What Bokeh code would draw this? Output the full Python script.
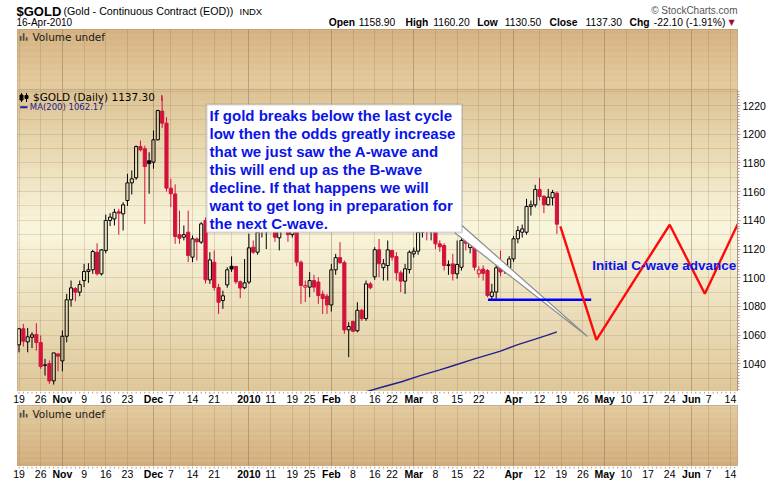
from bokeh.plotting import figure
from bokeh.layouts import column
from bokeh.models import Range1d, Label, FixedTicker, LinearAxis, Grid, BoxAnnotation
from bokeh.core.properties import value
from bokeh.embed import file_html
from bokeh.resources import INLINE

# ---------------- data ----------------
opens = [1053.2, 1064.4, 1055.3, 1058.5, 1060.4, 1054.8, 1039.2, 1040.2, 1028.1, 1046.9,
         1042.0, 1059.2, 1084.6, 1092.4, 1089.9, 1098.0, 1104.3, 1105.5, 1117.8, 1102.7,
         1118.9, 1139.9, 1141.0, 1146.0, 1144.5, 1153.8, 1166.1, 1169.6, 1191.4, 1189.8,
         1181.5, 1180.5, 1196.1, 1216.1, 1207.7, 1162.4, 1158.4, 1130.0, 1128.2, 1131.7,
         1114.3, 1127.0, 1124.8, 1139.9, 1098.5, 1110.8, 1093.2, 1084.1, 1095.0, 1108.0,
         1107.8, 1097.2, 1093.0, 1096.9, 1121.3, 1117.8, 1137.0, 1132.0, 1138.0, 1152.0,
         1127.8, 1137.0, 1143.0, 1130.0, 1138.0, 1110.8, 1093.4, 1093.4, 1098.0, 1097.0,
         1088.5, 1087.1, 1081.0, 1105.5, 1114.0, 1110.5, 1063.6, 1069.5, 1063.0, 1077.3,
         1071.5, 1095.7, 1100.6, 1119.5, 1107.0, 1108.5, 1119.0, 1114.7, 1103.4, 1097.6,
         1105.7, 1116.6, 1118.5, 1131.7, 1140.0, 1132.0, 1134.0, 1123.6, 1122.4, 1108.5,
         1109.6, 1102.7, 1107.3, 1127.5, 1121.0, 1122.4, 1102.7, 1106.0, 1105.0, 1087.0,
         1090.0, 1107.0, 1108.5, 1106.9, 1113.1, 1127.1, 1131.7, 1131.7, 1149.6, 1150.8,
         1161.5, 1156.8, 1150.8, 1155.7, 1158.9]
highs = [1065.0, 1067.8, 1065.0, 1062.0, 1068.3, 1059.7, 1043.4, 1042.3, 1047.6, 1047.4,
         1063.2, 1088.7, 1098.0, 1093.4, 1098.0, 1109.6, 1110.1, 1119.4, 1124.0, 1120.0,
         1144.0, 1145.0, 1148.0, 1148.0, 1152.6, 1172.4, 1174.7, 1192.1, 1195.6, 1192.0,
         1187.4, 1202.6, 1217.0, 1226.3, 1211.9, 1168.9, 1165.0, 1146.8, 1136.4, 1146.8,
         1129.4, 1128.0, 1138.7, 1142.0, 1117.8, 1119.0, 1095.7, 1091.0, 1107.3, 1114.8,
         1107.8, 1098.0, 1113.0, 1130.6, 1125.9, 1137.5, 1140.0, 1141.0, 1161.0, 1155.0,
         1140.0, 1145.0, 1146.0, 1141.0, 1140.0, 1112.0, 1098.0, 1103.9, 1102.0, 1100.4,
         1091.0, 1088.7, 1109.6, 1116.6, 1124.8, 1112.0, 1069.0, 1070.1, 1082.9, 1078.3,
         1098.0, 1097.0, 1121.3, 1127.0, 1113.0, 1125.9, 1119.4, 1117.8, 1105.0, 1109.6,
         1119.0, 1121.0, 1137.5, 1146.0, 1145.0, 1140.0, 1137.0, 1126.0, 1124.0, 1112.0,
         1116.6, 1125.9, 1130.0, 1131.0, 1128.0, 1124.0, 1108.0, 1108.5, 1106.0, 1095.7,
         1109.6, 1118.9, 1110.0, 1115.0, 1129.0, 1136.0, 1137.0, 1155.0, 1153.8, 1164.7,
         1169.6, 1157.3, 1161.9, 1161.2, 1160.2]
lows = [1048.0, 1052.0, 1048.0, 1051.0, 1049.2, 1036.5, 1031.8, 1026.0, 1025.5, 1034.8,
        1034.8, 1055.0, 1079.9, 1083.6, 1087.1, 1093.4, 1096.4, 1102.7, 1101.5, 1101.5,
        1117.0, 1136.0, 1136.4, 1130.0, 1132.9, 1150.0, 1158.0, 1168.2, 1188.0, 1137.5,
        1158.5, 1175.9, 1195.6, 1204.4, 1160.0, 1149.2, 1123.6, 1123.6, 1126.0, 1110.8,
        1110.8, 1112.0, 1123.6, 1096.0, 1095.7, 1091.1, 1074.8, 1078.3, 1093.0, 1104.0,
        1095.7, 1085.7, 1092.0, 1095.7, 1116.6, 1116.0, 1128.0, 1120.0, 1137.0, 1125.0,
        1119.0, 1133.0, 1125.0, 1128.0, 1108.0, 1081.8, 1083.0, 1086.4, 1090.0, 1081.8,
        1074.8, 1074.8, 1076.4, 1102.0, 1109.6, 1060.9, 1044.6, 1062.0, 1062.0, 1070.0,
        1070.0, 1092.0, 1098.5, 1100.4, 1098.0, 1098.0, 1112.0, 1098.0, 1089.9, 1088.7,
        1103.0, 1114.0, 1116.0, 1128.0, 1126.0, 1126.0, 1120.0, 1118.0, 1105.0, 1102.0,
        1098.0, 1099.2, 1105.0, 1119.0, 1117.0, 1105.0, 1100.0, 1098.0, 1086.4, 1084.6,
        1085.3, 1101.0, 1102.7, 1104.0, 1111.0, 1124.0, 1128.0, 1130.0, 1143.3, 1149.0,
        1153.8, 1145.0, 1150.3, 1150.3, 1130.5]
closes = [1064.4, 1055.7, 1058.8, 1060.2, 1054.8, 1038.1, 1039.0, 1028.1, 1047.6, 1045.3,
          1059.2, 1084.6, 1092.9, 1089.9, 1095.2, 1104.3, 1105.5, 1118.2, 1102.7, 1119.4,
          1139.9, 1142.2, 1145.6, 1145.0, 1150.8, 1166.1, 1168.9, 1191.4, 1189.1, 1177.5,
          1179.5, 1196.1, 1216.5, 1207.7, 1162.4, 1158.5, 1128.7, 1127.5, 1130.0, 1115.5,
          1127.1, 1125.0, 1137.5, 1098.5, 1112.4, 1093.2, 1082.9, 1087.4, 1105.5, 1106.0,
          1097.2, 1092.8, 1096.4, 1120.8, 1117.8, 1131.7, 1133.0, 1138.0, 1152.0, 1128.2,
          1137.0, 1143.0, 1130.0, 1138.0, 1110.8, 1094.6, 1094.5, 1098.0, 1093.4, 1087.6,
          1085.5, 1081.0, 1105.5, 1114.0, 1110.5, 1063.6, 1066.0, 1062.7, 1077.3, 1071.5,
          1095.7, 1093.0, 1119.5, 1109.7, 1109.7, 1119.4, 1114.3, 1103.4, 1097.6, 1106.2,
          1117.8, 1118.5, 1131.7, 1140.0, 1132.0, 1134.0, 1123.6, 1121.5, 1108.5, 1109.0,
          1102.7, 1109.2, 1126.0, 1124.0, 1125.0, 1107.3, 1105.5, 1103.0, 1087.6, 1090.0,
          1106.9, 1104.0, 1106.0, 1113.1, 1127.1, 1132.9, 1134.0, 1149.6, 1150.8, 1161.5,
          1156.6, 1150.8, 1156.1, 1159.4, 1137.3]

ma_idx = [80.0, 84.0, 88.0, 92.5, 97.0, 99.5, 105.0, 111.0, 115.0, 119.0, 122.0, 124.0]
ma_val = [1020.5, 1024.0, 1027.3, 1031.8, 1035.8, 1038.1, 1043.4, 1048.8, 1053.4, 1057.2, 1060.1, 1062.2]
ma_last = 1062.17

forecast_idx = [124.8, 133.1, 150.0, 158.1, 165.7]
forecast_val = [1135.7, 1056.7, 1136.9, 1088.8, 1137.5]

support_level = 1084.6
support_from, support_to = 108.1, 131.9

tick_idx = [0, 5, 10, 15, 20, 25, 31, 35, 40, 45, 53, 58, 63, 67, 72, 77, 82, 86,
            91, 96, 101, 106, 114, 120, 125, 130, 135, 140, 145, 150, 155, 159, 164]
tick_labels = ["19", "26", "Nov", "9", "16", "23", "Dec", "7", "14", "21", "2010", "11", "19",
               "25", "Feb", "8", "16", "22", "Mar", "8", "15", "22", "Apr", "12", "19", "26",
               "May", "10", "17", "24", "Jun", "7", "14"]
month_labels = ["Nov", "Dec", "2010", "Feb", "Mar", "Apr", "May", "Jun"]
extra_week_grid = [49, 111]
price_ticks = [1040, 1060, 1080, 1100, 1120, 1140, 1160, 1180, 1200, 1220]

callout_lines = ["If gold breaks below the last cycle",
                 "low then the odds greatly increase",
                 "that we just saw the A-wave and",
                 "this will end up as the B-wave",
                 "decline. If that happens we will",
                 "want to get long in preparation for",
                 "the next C-wave."]
forecast_note = "Initial C-wave advance"

# ---------------- layout constants (page pixels, page origin at 0,0) ----------------
W = 778
BL, BR = 17, W - 737
PXI = 4.338          # px per trading day
X0 = 18.5            # page x of day 0
XS = (BL - X0) / PXI
XE = (737 - X0) / PXI
YHI = 1220 + (105 - 89) / 1.435
YLO = 1220 - (391 - 105) / 1.435

def ix(px):
    return (px - X0) / PXI

def pr(py):
    return 1220 - (py - 105) / 1.435

RED = "#D3123B"
BLACK = "#000000"
BORDER = "#AE9484"
NAVY = "#20208E"
BLUE = "#0A14E8"
TICKC = "#B49C9C"

def interp(stops, t):
    for (t0, c0), (t1, c1) in zip(stops[:-1], stops[1:]):
        if t <= t1:
            f = (t - t0) / (t1 - t0)
            return "#%02x%02x%02x" % tuple(int(round(a + (b - a) * f)) for a, b in zip(c0, c1))
    return "#%02x%02x%02x" % stops[-1][1]

def add_bands(p, ylo, yhi, stops, n=50):
    h = (yhi - ylo) / n
    tops = [yhi - k * h for k in range(n)]
    bots = [yhi - (k + 1) * h for k in range(n)]
    cols = [interp(stops, (k + 0.5) / n) for k in range(n)]
    p.quad(left=XS - 1, right=XE + 1, top=tops, bottom=bots, fill_color=cols,
           line_color=cols, line_width=0.6, level="image")

xr = Range1d(XS, XE)

def add_xgrid(p):
    weeks = sorted(set(tick_idx + extra_week_grid))
    p.add_layout(Grid(dimension=0, ticker=FixedTicker(ticks=weeks),
                      grid_line_color="#8B6B3E", grid_line_alpha=0.22))
    months = [i for i, t in zip(tick_idx, tick_labels) if t in month_labels]
    p.add_layout(Grid(dimension=0, ticker=FixedTicker(ticks=months),
                      grid_line_color="#7A5A35", grid_line_alpha=0.22))

def make_panel(h, yr):
    p = figure(width=W, height=h, x_range=xr, y_range=yr, x_axis_location=None,
               y_axis_location=None, min_border_left=BL, min_border_right=BR,
               min_border_top=0, min_border_bottom=0, toolbar_location=None,
               output_backend="svg", border_fill_color="white",
               outline_line_color=BORDER, outline_line_width=1)
    p.grid.visible = False
    return p

def make_free(h, xrange_, yrange_):
    p = figure(width=W, height=h, x_range=xrange_, y_range=yrange_, x_axis_location=None,
               y_axis_location=None, min_border=0, min_border_left=0, min_border_right=0,
               min_border_top=0, min_border_bottom=0, toolbar_location=None,
               output_backend="svg", outline_line_color=None, frame_align=False)
    p.grid.visible = False
    return p

def lab(p, x, y, text, size, bold=False, color="black", font="Liberation Sans",
        align="left", baseline="middle"):
    p.add_layout(Label(x=x, y=y, text=text, text_font=font, text_font_size=size,
                       text_font_style="bold" if bold else "normal", text_color=color,
                       text_align=align, text_baseline=baseline))

# ---------------- header (page px coordinates) ----------------
fh = make_free(29, Range1d(0, W), Range1d(0, 29))

def hy(py):
    return 29 - py

lab(fh, 16, hy(10.8), "$GOLD", "13px", bold=True)
lab(fh, 63, hy(10.8), "(Gold - Continuous Contract (EOD))", "10.7px")
lab(fh, 239, hy(10.8), "INDX", "9.5px")
lab(fh, 737, hy(9.8), "\u00a9 StockCharts.com", "10px", color="#555555", align="right")
ROW2 = 21.8
lab(fh, 16, hy(ROW2), "16-Apr-2010", "10px")
stats = [("Open", True, 328.3), ("%.2f" % opens[-1], False, 358.3),
         ("High", True, 405.0), ("%.2f" % highs[-1], False, 432.7),
         ("Low", True, 476.7), ("%.2f" % lows[-1], False, 504.3),
         ("Close", True, 549.0), ("%.2f" % closes[-1], False, 585.0),
         ("Chg", True, 629.0),
         ("%.2f (%.2f%%)" % (closes[-1] - closes[-2], 100 * (closes[-1] - closes[-2]) / closes[-2]),
          False, 653.3)]
for t, b, x in stats:
    lab(fh, x, hy(ROW2), t, "10.3px", bold=b)
lab(fh, 728, hy(ROW2), "\u25BC", "8px", color="#9B1030", font="DejaVu Sans")

# ---------------- top volume panel ----------------
fa = make_panel(60, Range1d(0, 1))
add_bands(fa, 0, 1, [(0.0, (212, 177, 127)), (1.0, (228, 204, 158))])
add_xgrid(fa)

def fy(py):
    return (89 - py) / 60.0

lab(fa, ix(32), fy(36.3), "Volume undef", "10.5px", font="DejaVu Sans", color="#1a1a1a")
fa.quad(left=[ix(19.3), ix(22.3), ix(25.3)], right=[ix(21.0), ix(24.0), ix(27.0)],
        bottom=[fy(40.3)] * 3, top=[fy(35.5), fy(32.8), fy(36.8)],
        fill_color="#4A4A4A", line_color=None)

# ---------------- main price panel ----------------
pm = make_panel(302, Range1d(YLO, YHI))
add_bands(pm, YLO, YHI, [(0.0, (220, 194, 146)), (0.46, (249, 246, 221)),
                         (1.0, (222, 198, 152))])
add_xgrid(pm)
pm.add_layout(Grid(dimension=1, ticker=FixedTicker(ticks=list(range(1030, 1231, 10))),
                   grid_line_color="#8B6B3E", grid_line_alpha=0.18))
minor = [v for v in range(1022, 1232, 2) if v not in price_ticks]
ax = LinearAxis(ticker=FixedTicker(ticks=price_ticks, minor_ticks=minor),
                major_label_text_font="Liberation Sans", major_label_text_font_size="10.5px",
                major_label_text_color="black", axis_line_color=BORDER,
                major_tick_line_color=BORDER, minor_tick_line_color=TICKC,
                major_tick_in=0, major_tick_out=3, minor_tick_in=0, minor_tick_out=2,
                major_label_standoff=2)
pm.add_layout(ax, "right")

idx = list(range(len(closes)))
cols = [BLACK if i == 0 or closes[i] >= closes[i - 1] else RED for i in idx]
body_top = [max(o, c) for o, c in zip(opens, closes)]
body_bot = [min(o, c) for o, c in zip(opens, closes)]
pm.segment(x0=idx, y0=highs, x1=idx, y1=body_top, line_color=cols, line_width=1)
pm.segment(x0=idx, y0=body_bot, x1=idx, y1=lows, line_color=cols, line_width=1)
fi = [i for i in idx if closes[i] < opens[i]]
hi_ = [i for i in idx if closes[i] >= opens[i]]
pm.vbar(x=fi, width=0.72, top=[body_top[i] for i in fi], bottom=[body_bot[i] for i in fi],
        fill_color=[cols[i] for i in fi], line_color=[cols[i] for i in fi], line_width=1)
pm.vbar(x=hi_, width=0.72, top=[body_top[i] for i in hi_], bottom=[body_bot[i] for i in hi_],
        fill_color=None, line_color=[cols[i] for i in hi_], line_width=1)

pm.line(ma_idx, ma_val, line_color=NAVY, line_width=1.4)

# callout pointer + box
pm.patch(x=[ix(454), ix(461.5), ix(587)], y=[pr(232), pr(225), pr(336)],
         fill_color="white", line_color="#8C8C8C", line_width=1.2)
pm.add_layout(BoxAnnotation(left=ix(206), right=ix(461.5), top=pr(104), bottom=pr(232),
                            fill_color="white", fill_alpha=1.0, line_color="#7C7C7C",
                            line_width=2))
for k, t in enumerate(callout_lines):
    lab(pm, ix(209), pr(115 + 18.05 * k), t, "15px", bold=True, color=BLUE)

pm.line([support_from, support_to], [support_level, support_level], line_color="#0000FF",
        line_width=2.6)
pm.line(forecast_idx, forecast_val, line_color="#FF0A0A", line_width=2.4)
lab(pm, ix(591.7), pr(264.5), forecast_note, "13.5px", bold=True, color=BLUE)

# legends
lab(pm, ix(32.5), pr(96.3), "$GOLD (Daily) %.2f" % closes[-1], "10.5px", font="DejaVu Sans")
pm.segment(x0=[ix(21), ix(26)], y0=[pr(92.5), pr(92.5)], x1=[ix(21), ix(26)],
           y1=[pr(101.5), pr(101.5)], line_color="black", line_width=1)
pm.quad(left=[ix(19.5), ix(24.5)], right=[ix(22.5), ix(27.5)],
        bottom=[pr(99.5), pr(98.0)], top=[pr(94.5), pr(95.0)],
        fill_color="black", line_color="black")
pm.segment(x0=[ix(161.3)], y0=[pr(94.5)], x1=[ix(161.3)], y1=[pr(100.5)],
           line_color=RED, line_width=1.2)
pm.segment(x0=[ix(19.7)], y0=[pr(106.8)], x1=[ix(27)], y1=[pr(106.8)], line_color=NAVY,
           line_width=2)
lab(pm, ix(29.3), pr(106.8), "MA(200) %.2f" % ma_last, "8.5px", font="DejaVu Sans", color=NAVY)

# ---------------- date strips (frame = whole strip, same px-per-day scale) ----------------
SX0 = ix(0)
SX1 = ix(W)

def make_strip(h, ytext):
    p = make_free(h, Range1d(SX0, SX1), Range1d(0, h))
    nx = [i for i, t in zip(tick_idx, tick_labels) if t not in month_labels]
    nt = [t for t in tick_labels if t not in month_labels]
    bx = [i for i, t in zip(tick_idx, tick_labels) if t in month_labels]
    bt = [t for t in tick_labels if t in month_labels]
    p.text(x=nx, y=[ytext] * len(nx), text=nt, text_align="center", text_baseline="middle",
           text_font=value("Liberation Sans"), text_font_size="10.5px", text_color="black")
    p.text(x=bx, y=[ytext] * len(bx), text=bt, text_align="center", text_baseline="middle",
           text_font=value("Liberation Sans"), text_font_size="10.5px",
           text_font_style="bold", text_color="black")
    days = list(range(0, 166))
    p.segment(x0=days, y0=[h] * len(days), x1=days, y1=[h - 2] * len(days),
              line_color=TICKC, line_width=1)
    return p

s1 = make_strip(14, 14 - 7.2)

# ---------------- bottom volume panel ----------------
fb = make_panel(61, Range1d(0, 1))
add_bands(fb, 0, 1, [(0.0, (226, 202, 157)), (1.0, (210, 172, 122))])
add_xgrid(fb)

def by(py):
    return (466 - py) / 61.0

lab(fb, ix(32), by(413), "Volume undef", "10.5px", font="DejaVu Sans", color="#1a1a1a")
fb.quad(left=[ix(19.3), ix(22.3), ix(25.3)], right=[ix(21.0), ix(24.0), ix(27.0)],
        bottom=[by(417.0)] * 3, top=[by(412.2), by(409.5), by(413.5)],
        fill_color="#4A4A4A", line_color=None)

s2 = make_strip(16, 16 - 7.5)

layout = column(fh, fa, pm, s1, fb, s2, spacing=0)
open("out.html", "w").write(file_html(layout, INLINE))
